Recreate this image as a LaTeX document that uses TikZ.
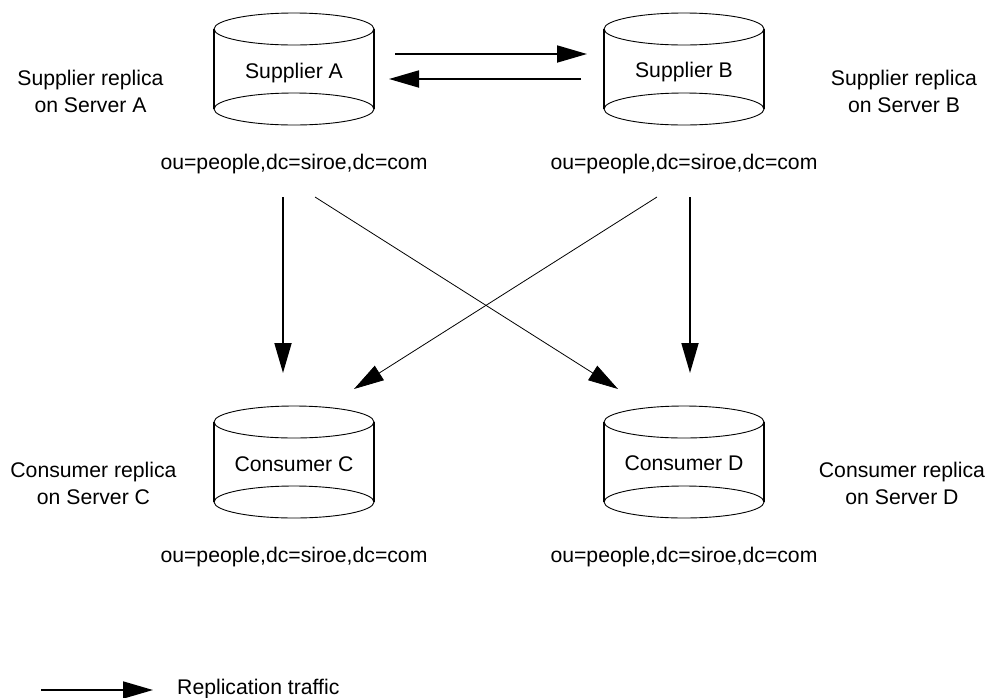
\documentclass[tikz,border=0pt]{standalone}
\usepackage{fontspec}
\setmainfont{Liberation Sans}
\usetikzlibrary{arrows.meta}
\tikzset{
  x=1pt,y=-1pt,
  cylline/.style={line width=0.9pt,black},
  lbl/.style={inner sep=0pt,anchor=base,align=center,font=\fontsize{21.2}{31}\selectfont},
  flow/.style={line width=1.8pt,-{Triangle[length=30pt,width=17pt]}},
  flowthin/.style={line width=0.8pt,-{Triangle[length=30pt,width=17pt]}},
  pics/dbcyl/.style={code={
    \draw[cylline] (-80,-40) arc[start angle=180,end angle=-180,x radius=80,y radius=16];
    \draw[cylline] (-80,40) arc[start angle=180,end angle=-180,x radius=80,y radius=16];
    \draw[line width=1.3pt] (-80,-40) -- (-80,40) (80,-40) -- (80,40);
  }}
}
\begin{document}
\begin{tikzpicture}
\useasboundingbox (0,0) rectangle (988,697);
\pic at (294,69) {dbcyl};
\pic at (684,69) {dbcyl};
\pic at (294,462) {dbcyl};
\pic at (684,462) {dbcyl};
\node[lbl] (sa) at (294,78) {Supplier A};
\node[lbl] (sb) at (684,77.5) {Supplier B};
\node[lbl] (cc) at (294,471) {Consumer C};
\node[lbl] (cd) at (684,470.5) {Consumer D};
\node[lbl] (pa) at (294,169.5) {ou=people,dc=siroe,dc=com};
\node[lbl] (pb) at (684,169.5) {ou=people,dc=siroe,dc=com};
\node[lbl] (pc) at (294,562) {ou=people,dc=siroe,dc=com};
\node[lbl] (pd) at (684,562) {ou=people,dc=siroe,dc=com};
\node[lbl] (ra) at (90.5,85) {Supplier replica};
\node[lbl] (ra2) at (90.5,112.5) {on Server A};
\node[lbl] (rb) at (904,85) {Supplier replica};
\node[lbl] (rb2) at (904,112.5) {on Server B};
\node[lbl] (rc) at (93.5,477.5) {Consumer replica};
\node[lbl] (rc2) at (93.5,504) {on Server C};
\node[lbl] (rd) at (902,477.5) {Consumer replica};
\node[lbl] (rd2) at (902,504) {on Server D};
\node[lbl,anchor=base west] (leg) at (177,694) {Replication traffic};
\coordinate (a1) at (395,54); \coordinate (a2) at (587,54);
\coordinate (b1) at (581,79); \coordinate (b2) at (389,79);
\coordinate (c1) at (283,197); \coordinate (c2) at (283,373);
\coordinate (d1) at (690,197); \coordinate (d2) at (690,373);
\coordinate (e1) at (315,197); \coordinate (e2) at (618,389);
\coordinate (f1) at (657,197); \coordinate (f2) at (354,389);
\coordinate (g1) at (41,690); \coordinate (g2) at (153,690);
\draw[flow] (a1) -- (a2);
\draw[flow] (b1) -- (b2);
\draw[flow] (c1) -- (c2);
\draw[flow] (d1) -- (d2);
\draw[flowthin] (e1) -- (e2);
\draw[flowthin] (f1) -- (f2);
\draw[flow] (g1) -- (g2);
\end{tikzpicture}
\end{document}
